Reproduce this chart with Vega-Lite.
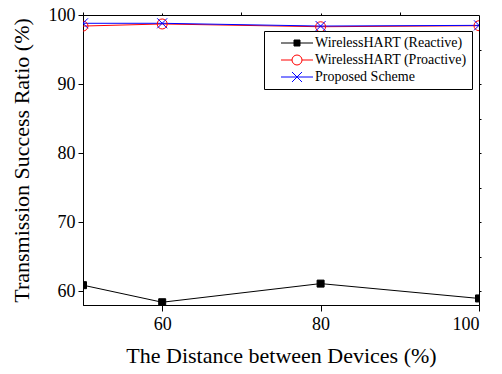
{
  "$schema": "https://vega.github.io/schema/vega-lite/v6.json",
  "width": 396,
  "height": 290,
  "autosize": "none",
  "padding": {"left": 83, "top": 15, "right": 23, "bottom": 69},
  "background": "white",
  "config": {
    "view": {"stroke": "black", "strokeWidth": 1},
    "font": "Liberation Serif",
    "axis": {
      "labelFont": "Liberation Serif",
      "titleFont": "Liberation Serif",
      "labelColor": "black",
      "titleColor": "black",
      "domainColor": "black",
      "tickColor": "black",
      "grid": false,
      "labelFontSize": 18,
      "titleFontSize": 22,
      "titleFontWeight": "normal"
    },
    "legend": {
      "labelFont": "Liberation Serif",
      "labelFontSize": 14,
      "labelColor": "black",
      "title": null,
      "orient": "none",
      "legendX": 181,
      "legendY": 16,
      "strokeColor": "black",
      "fillColor": "white",
      "padding": 5,
      "rowPadding": 3,
      "symbolSize": 100,
      "symbolStrokeWidth": 1,
      "symbolOpacity": 1,
      "symbolOffset": 21,
      "labelOffset": 11,
      "labelLimit": 300
    }
  },
  "data": {
    "values": [
      {"series": "WirelessHART (Reactive)", "x": 50, "y": 60.87},
      {"series": "WirelessHART (Reactive)", "x": 60, "y": 58.4},
      {"series": "WirelessHART (Reactive)", "x": 80, "y": 61.1},
      {"series": "WirelessHART (Reactive)", "x": 100, "y": 58.95},
      {"series": "WirelessHART (Proactive)", "x": 50, "y": 98.4},
      {"series": "WirelessHART (Proactive)", "x": 60, "y": 98.7},
      {"series": "WirelessHART (Proactive)", "x": 80, "y": 98.3},
      {"series": "WirelessHART (Proactive)", "x": 100, "y": 98.45},
      {"series": "Proposed Scheme", "x": 50, "y": 98.8},
      {"series": "Proposed Scheme", "x": 60, "y": 98.8},
      {"series": "Proposed Scheme", "x": 80, "y": 98.4},
      {"series": "Proposed Scheme", "x": 100, "y": 98.5}
    ]
  },
  "resolve": {
    "scale": {"stroke": "independent", "shape": "independent", "fill": "independent"},
    "axis": {"x": "independent", "y": "independent"}
  },
  "layer": [
    {
      "mark": {"type": "line", "strokeWidth": 1, "clip": true},
      "encoding": {
        "x": {
          "field": "x", "type": "quantitative",
          "scale": {"domain": [50, 100], "nice": false, "zero": false},
          "axis": {"values": [60, 80, 100], "tickSize": 6, "labelPadding": 4, "title": "The Distance between Devices (%)", "titlePadding": 12}
        },
        "y": {
          "field": "y", "type": "quantitative",
          "scale": {"domain": [58, 100], "nice": false, "zero": false},
          "axis": {"values": [60, 70, 80, 90, 100], "tickSize": 5, "labelPadding": 3, "title": "Transmission Success Ratio (%)", "titlePadding": 15}
        },
        "stroke": {
          "field": "series", "type": "nominal",
          "scale": {"domain": ["WirelessHART (Reactive)", "WirelessHART (Proactive)", "Proposed Scheme"], "range": ["#000000", "#ff0000", "#0000ff"]},
          "legend": null
        },
        "order": {"field": "x", "type": "quantitative"}
      }
    },
    {
      "mark": {"type": "point", "strokeWidth": 1, "opacity": 1, "clip": true},
      "encoding": {
        "x": {
          "field": "x", "type": "quantitative",
          "scale": {"domain": [50, 100], "nice": false, "zero": false},
          "axis": {"values": [50, 70, 90], "tickSize": 3, "labels": false, "domain": false, "title": null}
        },
        "y": {
          "field": "y", "type": "quantitative",
          "scale": {"domain": [58, 100], "nice": false, "zero": false},
          "axis": null
        },
        "stroke": {
          "field": "series", "type": "nominal",
          "scale": {"domain": ["WirelessHART (Reactive)", "WirelessHART (Proactive)", "Proposed Scheme"], "range": ["#000000", "#ff0000", "#0000ff"]},
          "legend": null
        },
        "fill": {
          "field": "series", "type": "nominal",
          "scale": {"domain": ["WirelessHART (Reactive)", "WirelessHART (Proactive)", "Proposed Scheme"], "range": ["#000000", "transparent", "transparent"]},
          "legend": null
        },
        "shape": {
          "field": "series", "type": "nominal",
          "scale": {"domain": ["WirelessHART (Reactive)", "WirelessHART (Proactive)", "Proposed Scheme"], "range": ["M-0.7,-0.7H0.7V0.7H-0.7Z", "M1,0A1,1 0 1,1 -1,0A1,1 0 1,1 1,0Z", "M-1,-1L1,1M-1,1L1,-1"]},
          "legend": null
        },
        "size": {"value": 100}
      }
    },
    {
      "mark": {"type": "point", "strokeWidth": 1, "opacity": 0},
      "encoding": {
        "x": {"field": "x", "type": "quantitative", "scale": {"domain": [50, 100], "nice": false, "zero": false},
          "axis": {"orient": "top", "values": [60, 70, 80, 90], "tickSize": 2, "labels": false, "domain": false, "title": null}},
        "y": {"field": "y", "type": "quantitative", "scale": {"domain": [58, 100], "nice": false, "zero": false},
          "axis": {"orient": "right", "values": [60, 65, 70, 75, 80, 85, 90, 95], "tickSize": 2, "labels": false, "domain": false, "title": null}},
        "stroke": {
          "field": "series", "type": "nominal",
          "scale": {"domain": ["WirelessHART (Reactive)", "WirelessHART (Proactive)", "Proposed Scheme"], "range": ["#000000", "#ff0000", "#0000ff"]},
          "legend": {"title": null, "labelFont": "Liberation Serif"}
        },
        "fill": {
          "field": "series", "type": "nominal",
          "scale": {"domain": ["WirelessHART (Reactive)", "WirelessHART (Proactive)", "Proposed Scheme"], "range": ["#000000", "#ffffff", "transparent"]},
          "legend": {"title": null, "labelFont": "Liberation Serif"}
        },
        "shape": {
          "field": "series", "type": "nominal",
          "scale": {"domain": ["WirelessHART (Reactive)", "WirelessHART (Proactive)", "Proposed Scheme"], "range": ["M-3.2,0H3.2M-0.6,-0.6H0.6V0.6H-0.6Z", "M-3.2,0H-1M1,0H3.2M1,0A1,1 0 1,1 -1,0A1,1 0 1,1 1,0Z", "M-3.2,0H3.2M-1,-1L1,1M-1,1L1,-1"]},
          "legend": {"title": null, "labelFont": "Liberation Serif"}
        }
      }
    }
  ]
}
